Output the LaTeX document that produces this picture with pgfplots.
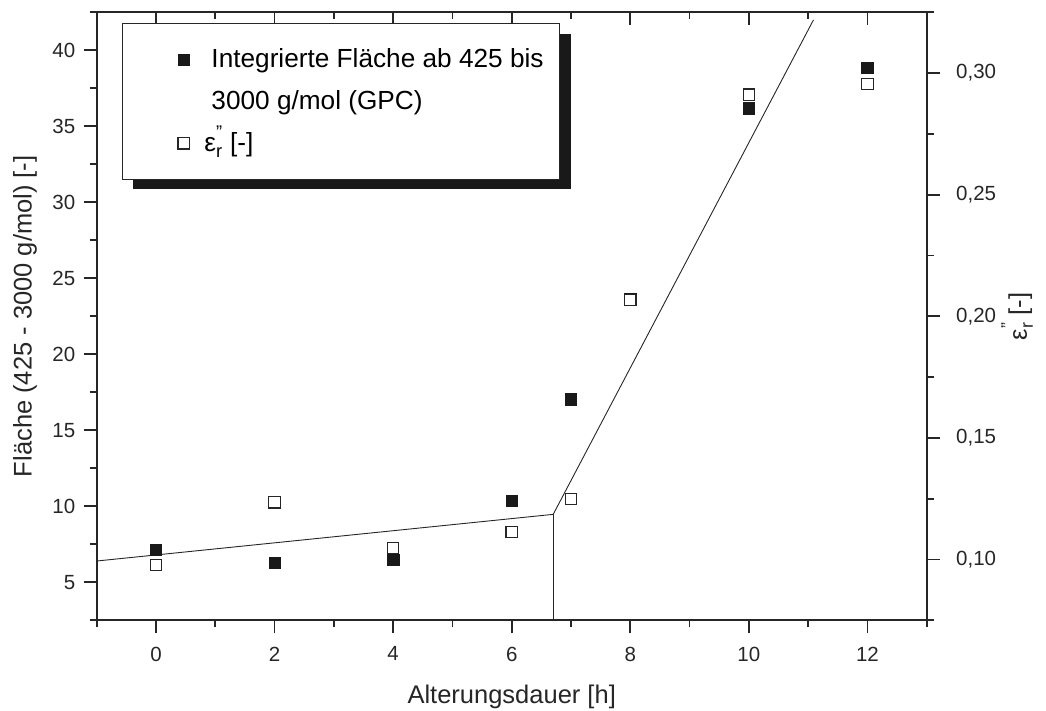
\documentclass[border=0pt]{standalone}
\usepackage{fontspec}
\setmainfont{Liberation Sans}
\usepackage{amsmath}
\usepackage{pgfplots}
\pgfplotsset{compat=1.18}
\usetikzlibrary{shadows}

\newcommand{\epsr}{$\text{ε}_{\text{r}}^{\text{\raisebox{4pt}{"}}}$}

\pgfplotstableread{
x y
0 7.14
2 6.29
4 6.49
6 10.37
7 17.04
8 23.67
10 36.2
12 38.86
}\flaeche

\pgfplotstableread{
x y
0 0.0977
2 0.1235
4 0.1047
6 0.1114
7 0.1248
8 0.2067
10 0.2911
12 0.2956
}\epsdata

\begin{document}
\begin{tikzpicture}
\path[use as bounding box] (0,0) rectangle (1046pt,711pt);
\pgfplotsset{
  every axis/.append style={
    scale only axis, width=830pt, height=608pt,
    at={(96.7pt,90.7pt)}, anchor=south west,
    xmin=-1, xmax=13,
    /pgf/number format/assume math mode=true,
    tick label style={font=\fontsize{20.5}{24}\selectfont, black!85},
    label style={font=\fontsize{25.5}{30}\selectfont, black!85},
    major tick length=13pt, minor tick length=7pt,
    tick style={black!85, line width=1.8pt},
    axis line style={line width=2pt, black!85},
    xtick={0,2,4,6,8,10,12}, minor xtick={-1,1,3,5,7,9,11,13},
  },
  mylegimg/.style={legend image code/.code={\path (0pt,0pt) (50pt,0pt); \draw[##1] plot coordinates {(45pt,0pt)};}},
}
\begin{axis}[
  axis x line*=bottom, axis y line*=left, tick align=outside,
  ymin=2.5, ymax=42.5,
  ytick={5,10,15,20,25,30,35,40},
  minor ytick={2.5,7.5,12.5,17.5,22.5,27.5,32.5,37.5,42.5},
  xticklabel style={yshift=-10pt},
  yticklabel style={xshift=-5pt},
  xlabel={Alterungsdauer [h]},
  ylabel={Fläche (425 - 3000 g/mol) [-]},
  xlabel style={at={(axis description cs:0.5,-0.126)}, anchor=center},
  ylabel style={at={(axis description cs:-0.0864,0.5)}, anchor=center},
]
\addplot[black!85, line width=0.9pt, no marks] coordinates {(-1,6.4) (6.7,9.47) (11.09,42.0)};
\addplot[black!85, line width=0.9pt, no marks] coordinates {(6.7,2.5) (6.7,9.47)};
\addplot[only marks, mark=square*, mark size=5.7pt,
  mark options={fill=black!90, draw=black!90, line width=0.5pt}] table[x=x,y=y] {\flaeche};
\end{axis}

\begin{axis}[
  axis x line*=top, axis y line=none, tick align=inside,
  xticklabels={}, ymin=0, ymax=1,
]
\end{axis}

\begin{axis}[
  axis y line*=right, axis x line=none, tick align=outside,
  ymin=0.075, ymax=0.325,
  ytick={0.10,0.15,0.20,0.25,0.30},
  minor ytick={0.075,0.125,0.175,0.225,0.275,0.325},
  yticklabel style={xshift=13pt, /pgf/number format/.cd, fixed, fixed zerofill, precision=2, use comma},
  ylabel={\epsr{} [-]},
  ylabel style={at={(axis description cs:1.109,0.5)}, anchor=center},
  legend cell align=left,
  legend style={at={(rel axis cs:0.0301,0.982)}, anchor=north west,
    draw=black!85, line width=1pt, fill=white,
    font=\fontsize{26.2}{30}\selectfont,
    inner xsep=16pt, inner ysep=22pt, row sep=13.8pt, column sep=22pt,
    nodes={inner sep=0pt, text height=22pt, text depth=6pt},
    drop shadow={shadow xshift=11pt, shadow yshift=-10pt, fill=black!90, opacity=1}},
]
\addlegendimage{only marks, mark=square*, mark size=5.8pt, mark options={fill=black!90, draw=black!90, line width=0.5pt}, mylegimg}
\addlegendentry{Integrierte Fläche ab 425 bis}
\addlegendimage{empty legend}
\addlegendentry{3000 g/mol (GPC)}
\addplot[only marks, mark=square*, mark size=5.7pt,
  mark options={fill=white, draw=black!85, line width=1.1pt}, mylegimg] table[x=x,y=y] {\epsdata};
\addlegendentry{\hspace*{-7pt}\epsr{} [-]}
\end{axis}
\end{tikzpicture}
\end{document}
